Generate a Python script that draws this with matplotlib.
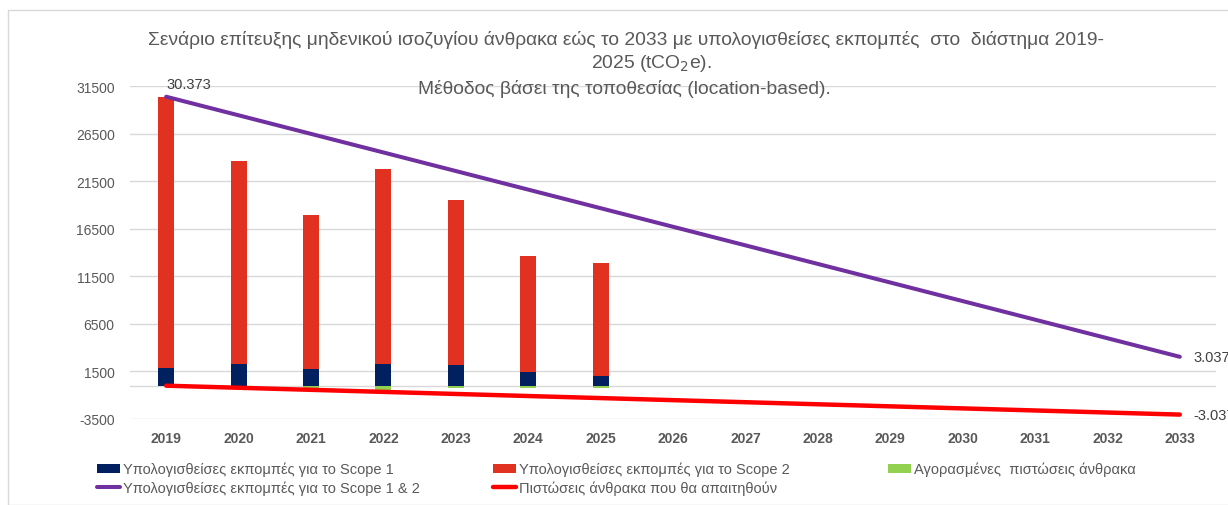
import matplotlib.pyplot as plt
from matplotlib.patches import Rectangle
import numpy as np

years = [str(y) for y in range(2019, 2034)]
bar_years = ["2019", "2020", "2021", "2022", "2023", "2024", "2025"]
scope1 = [1850, 2300, 1750, 2300, 2170, 1400, 1020]
scope2 = [28520, 21280, 16180, 20450, 17330, 12230, 11870]
credits = [0, 0, -250, -500, -250, -250, -250]

line_years = ["2019", "2033"]
target = [30373, 3037]
needed = [0, -3037]

yticks = [-3500, 1500, 6500, 11500, 16500, 21500, 26500, 31500]

FONT = ["Liberation Sans", "DejaVu Sans"]
GREY = "#595959"

plt.rcParams["font.family"] = FONT


def main():
    fig = plt.figure(figsize=(12.28, 5.06), dpi=100)
    ax = fig.add_axes([130 / 1228, 86 / 506, 1086 / 1228, 333 / 506])

    # light frame round the chart area
    fig.patches.append(Rectangle((8 / 1228, 0.0), 1.0, 495 / 506, transform=fig.transFigure,
                                 fill=False, edgecolor="#d9d9d9", lw=1.0))

    pos = {y: i for i, y in enumerate(years)}
    xb = np.array([pos[y] for y in bar_years])
    w = 0.22

    h1 = ax.bar(xb, scope1, w, color="#002060", zorder=3)
    h2 = ax.bar(xb, scope2, w, bottom=scope1, color="#e03121", zorder=3)
    h3 = ax.bar(xb, credits, w, color="#92d050", zorder=3)

    xl = [pos[y] for y in line_years]
    l1, = ax.plot(xl, target, color="#7030a0", lw=2.9, zorder=4, solid_capstyle="round")
    l2, = ax.plot(xl, needed, color="#ff0000", lw=3.2, zorder=4, solid_capstyle="round")

    ax.annotate("30.373", xy=(xl[0], target[0]), xytext=(0, 4), textcoords="offset points",
                ha="left", va="bottom", color="#404040", fontsize=10.5)
    ax.annotate("3.037", xy=(xl[1], target[1]), xytext=(10, 0), textcoords="offset points",
                ha="left", va="center", color="#404040", fontsize=10.5, annotation_clip=False)
    ax.annotate("-3.037", xy=(xl[1], needed[1]), xytext=(10, 0), textcoords="offset points",
                ha="left", va="center", color="#404040", fontsize=10.5, annotation_clip=False)

    ax.set_xlim(-0.5, len(years) - 0.5)
    ax.set_ylim(-3500, 31500)
    ax.set_xticks(range(len(years)))
    ax.set_xticklabels(years, fontweight="bold", color=GREY, fontsize=10)
    ax.set_yticks(yticks)
    ax.set_yticklabels([str(t) for t in yticks], color=GREY, fontsize=10)
    ax.tick_params(axis="x", length=0, pad=9)
    ax.tick_params(axis="y", length=0, pad=11)
    ax.grid(axis="y", color="#d9d9d9", lw=1, zorder=0)
    ax.axhline(0, color="#d9d9d9", lw=1, zorder=1)
    for s in ax.spines.values():
        s.set_visible(False)

    fig.text(626 / 1228, 1 - 40 / 506,
             "Σενάριο επίτευξης μηδενικού ισοζυγίου άνθρακα εώς το 2033 με υπολογισθείσες εκπομπές  στο  διάστημα 2019-",
             ha="center", va="center", fontsize=13.9, color=GREY)
    fig.text(651 / 1228, 1 - 64 / 506, "2025 (tCO$_2$e).",
             ha="center", va="center", fontsize=13.9, color=GREY)
    fig.text(624 / 1228, 1 - 89 / 506, "Μέθοδος βάσει της τοποθεσίας (location-based).",
             ha="center", va="center", fontsize=13.9, color=GREY)

    # legend in three columns, placed like the reference
    cols = [
        (97, [h1, l1], ["Υπολογισθείσες εκπομπές για το Scope 1",
                        "Υπολογισθείσες εκπομπές για το Scope 1 & 2"]),
        (493, [h2, l2], ["Υπολογισθείσες εκπομπές για το Scope 2",
                         "Πιστώσεις άνθρακα που θα απαιτηθούν"]),
        (888, [h3], ["Αγορασμένες  πιστώσεις άνθρακα"]),
    ]
    for x0, hs, ls in cols:
        fig.legend(hs, ls, loc="upper left", bbox_to_anchor=(x0 / 1228, 43 / 506),
                   frameon=False, fontsize=10.5, labelcolor=GREY,
                   handlelength=1.6, handleheight=0.6, handletextpad=0.2,
                   borderaxespad=0, borderpad=0, labelspacing=0.25)

    fig.savefig("out.png", dpi=100)


if __name__ == "__main__":
    main()
